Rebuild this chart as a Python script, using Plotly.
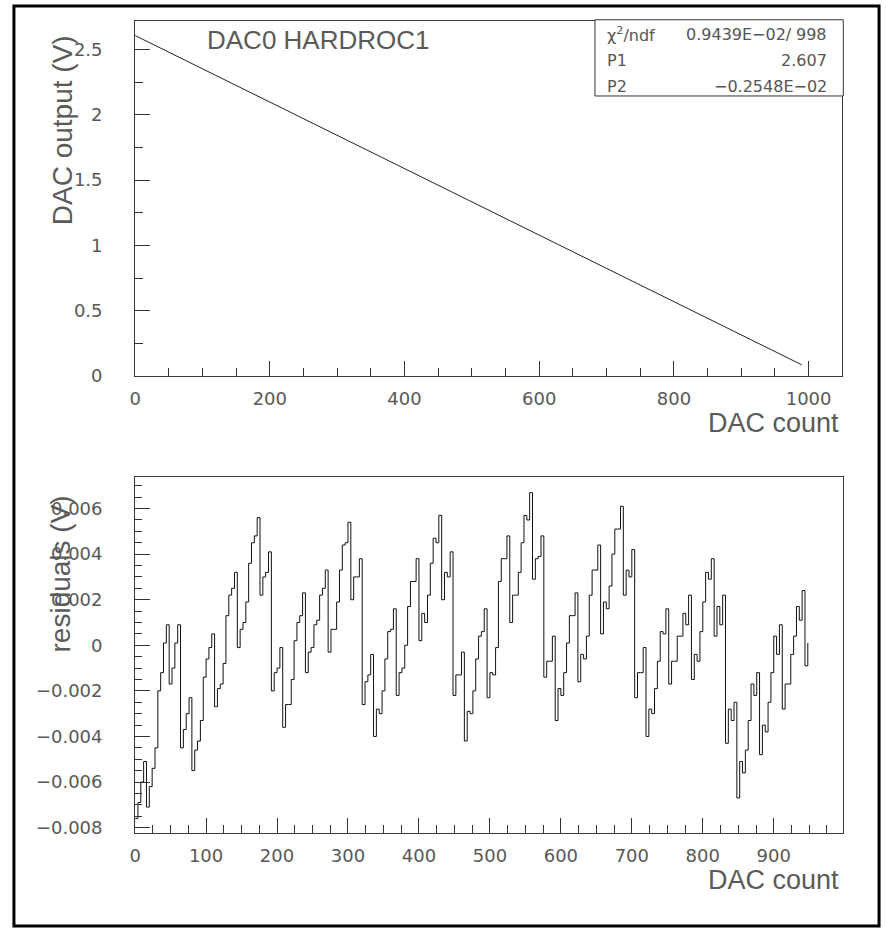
import plotly.graph_objects as go

W, H = 886, 942

# ---------------- data ----------------
# Top panel: DAC output (V) versus DAC count
dac_top = [0, 100, 200, 300, 400, 500, 600, 700, 800, 900, 990]
volt_top = [2.607, 2.352, 2.097, 1.843, 1.588, 1.333, 1.078, 0.823, 0.569, 0.314, 0.085]

# Fit result box
fit_chi2 = "0.9439E\u221202/"
fit_ndf = "998"
fit_p1 = "2.607"
fit_p2 = "\u22120.2548E\u221202"

# Bottom panel: residuals, sampled every 4 DAC counts (values in mV)
dac_res = list(range(0, 952, 4))
residual_mV = [
    -7.6, -6.9, -6.0, -5.1, -7.1, -6.2, -5.4, -4.5,      # 0-32
    -2.0, -1.2, 0.1, 0.9, -1.7, -1.0, 0.1, 0.9,          # 32-64
    -4.5, -3.7, -3.0, -2.3, -5.5, -4.6, -4.2, -3.3,      # 64-96
    -1.4, -0.6, -0.1, 0.5, -2.7, -1.9, -1.7, -0.8,       # 96-128
    1.3, 2.2, 2.5, 3.2, -0.1, 0.7, 1.0, 1.9,             # 128-160
    3.6, 4.5, 4.8, 5.6, 2.2, 3.0, 3.2, 4.1,              # 160-192
    -2.0, -1.2, -1.0, -0.1, -3.6, -2.6, -2.6, -1.5,      # 192-224
    0.2, 1.0, 1.3, 2.3, -1.2, -0.3, -0.1, 0.9,           # 224-256
    1.1, 2.2, 2.5, 3.3, -0.3, 0.7, 0.7, 1.9,             # 256-288
    3.3, 4.4, 4.5, 5.4, 2.0, 3.0, 3.0, 3.8,              # 288-320
    -2.6, -1.6, -1.3, -0.4, -4.0, -2.8, -3.0, -2.0,      # 320-352
    -0.6, 0.6, 0.7, 1.6, -2.2, -1.2, -1.0, 0.0,          # 352-384
    1.7, 2.8, 2.8, 3.8, 0.2, 1.4, 1.0, 2.2,              # 384-416
    3.6, 4.7, 4.5, 5.7, 2.0, 3.2, 3.0, 4.1,              # 416-448
    -2.2, -1.3, -1.3, -0.3, -4.2, -2.9, -3.0, -2.0,      # 448-480
    -0.6, 0.4, 0.6, 1.6, -2.3, -1.2, -1.3, -0.1,         # 480-512
    2.8, 3.8, 3.8, 4.8, 1.0, 2.2, 2.2, 3.2,              # 512-544
    4.5, 5.7, 5.5, 6.7, 2.9, 3.8, 3.9, 4.8,              # 544-576
    -1.4, -0.7, -0.7, 0.4, -3.3, -1.9, -2.2, -1.2,       # 576-608
    0.1, 1.3, 1.3, 2.3, -1.6, -0.4, -0.6, 0.4,           # 608-640
    2.2, 3.3, 3.3, 4.4, 0.5, 1.9, 1.6, 2.6,              # 640-672
    4.0, 5.1, 5.1, 6.1, 2.2, 3.3, 3.0, 4.2,              # 672-704
    -2.3, -1.2, -1.2, -0.1, -4.0, -2.8, -3.0, -1.9,      # 704-736
    -0.7, 0.6, 0.5, 1.6, -1.7, -0.7, -0.7, 0.4,          # 736-768
    0.4, 1.4, 0.9, 2.2, -1.5, -0.4, -0.7, 0.6,           # 768-800
    1.9, 3.2, 2.9, 3.8, 0.4, 1.7, 0.9, 2.2,              # 800-832
    -4.3, -2.8, -3.3, -2.5, -6.7, -5.1, -5.6, -4.6,      # 832-864
    -3.3, -1.7, -2.2, -1.2, -4.8, -3.5, -3.8, -2.5,      # 864-896
    -1.2, 0.4, -0.4, 0.9, -2.8, -1.7, -1.7, -0.4,        # 896-928
    0.4, 1.7, 1.1, 2.4, -0.9, 0.1,                       # 928-952
]
residual_V = [v / 1000.0 for v in residual_mV]

# axis ranges
top_x_range = [0, 1050]
top_y_range = [0, 2.72]
bot_x_range = [0, 998]
bot_y_range = [-0.00824, 0.00739]


def px(x):
    return x / W


def py(y):
    return 1 - y / H


TICKFONT = dict(family="DejaVu Sans", size=18, color="#585858")
TITLEFONT = dict(family="Liberation Sans", size=27, color="#5a5a5a")
YTITLEFONT = dict(family="Liberation Sans", size=28, color="#5a5a5a")
AX = dict(showline=True, linecolor="#3a3a3a", linewidth=1, mirror=True,
          showgrid=False, zeroline=False, ticks="inside", tickcolor="#333",
          tickwidth=1, tickfont=TICKFONT)

fig = go.Figure()
fig.add_trace(go.Scatter(x=dac_top, y=volt_top, mode="lines",
                         line=dict(color="#222", width=1),
                         xaxis="x", yaxis="y", showlegend=False, hoverinfo="skip"))
fig.add_trace(go.Scatter(x=dac_res, y=residual_V, mode="lines",
                         line=dict(color="#111", width=1, shape="hv"),
                         xaxis="x2", yaxis="y2", showlegend=False, hoverinfo="skip"))

fig.update_layout(
    width=W, height=H, margin=dict(l=0, r=0, t=0, b=0),
    paper_bgcolor="white", plot_bgcolor="white",
    xaxis=dict(AX, domain=[px(130), px(842)], range=top_x_range, anchor="y",
               tick0=0, dtick=200, ticklen=15, ticklabelstandoff=6,
               minor=dict(dtick=50, tick0=0, ticklen=8, ticks="inside", tickcolor="#333")),
    yaxis=dict(AX, domain=[py(380), py(21)], range=top_y_range, anchor="x",
               tick0=0, dtick=0.5, ticklen=15, ticklabelstandoff=28,
               minor=dict(dtick=0.25, tick0=0, ticklen=8, ticks="inside", tickcolor="#333")),
    xaxis2=dict(AX, domain=[px(130), px(843)], range=bot_x_range, anchor="y2",
                tick0=0, dtick=100, ticklen=15, ticklabelstandoff=6,
                minor=dict(dtick=25, tick0=0, ticklen=8, ticks="inside", tickcolor="#333")),
    yaxis2=dict(AX, domain=[py(842), py(482)], range=bot_y_range, anchor="x2",
                tick0=0, dtick=0.002, ticklen=15, ticklabelstandoff=28,
                minor=dict(dtick=0.0005, tick0=0, ticklen=7, ticks="inside", tickcolor="#333")),
)

shapes = [
    # outer page frame
    dict(type="rect", xref="paper", yref="paper", x0=px(8), x1=px(879), y0=py(936), y1=py(6),
         line=dict(color="black", width=3), fillcolor="rgba(0,0,0,0)", layer="above"),
    # fit statistics box
    dict(type="rect", xref="paper", yref="paper", x0=px(593), x1=px(843), y0=py(97), y1=py(20),
         line=dict(color="#333", width=1), fillcolor="white", layer="above"),
]
fig.update_layout(shapes=shapes)

ann = []


def text(x, y, s, font, xanchor="left", angle=0):
    ann.append(dict(x=px(x), y=py(y), xref="paper", yref="paper", text=s, showarrow=False,
                    font=font, xanchor=xanchor, yanchor="middle", textangle=angle))


STATFONT = dict(family="DejaVu Sans", size=16, color="#555")
text(603, 35, "\u03c7<sup>2</sup>/ndf", STATFONT)
text(793, 35, fit_chi2, STATFONT, xanchor="right")
text(829, 35, fit_ndf, STATFONT, xanchor="right")
text(603, 61, "P1", STATFONT)
text(829, 61, fit_p1, STATFONT, xanchor="right")
text(603, 87, "P2", STATFONT)
text(829, 87, fit_p2, STATFONT, xanchor="right")

text(200, 40, "DAC0 HARDROC1", dict(TITLEFONT, size=26))
text(841, 428, "DAC count", TITLEFONT, xanchor="right")
text(841, 889, "DAC count", TITLEFONT, xanchor="right")
text(57, 132, "DAC output (V)", YTITLEFONT, xanchor="center", angle=-90)
text(55, 580, "residuals (V)", YTITLEFONT, xanchor="center", angle=-90)
fig.update_layout(annotations=ann)

fig.write_html("out.html")
